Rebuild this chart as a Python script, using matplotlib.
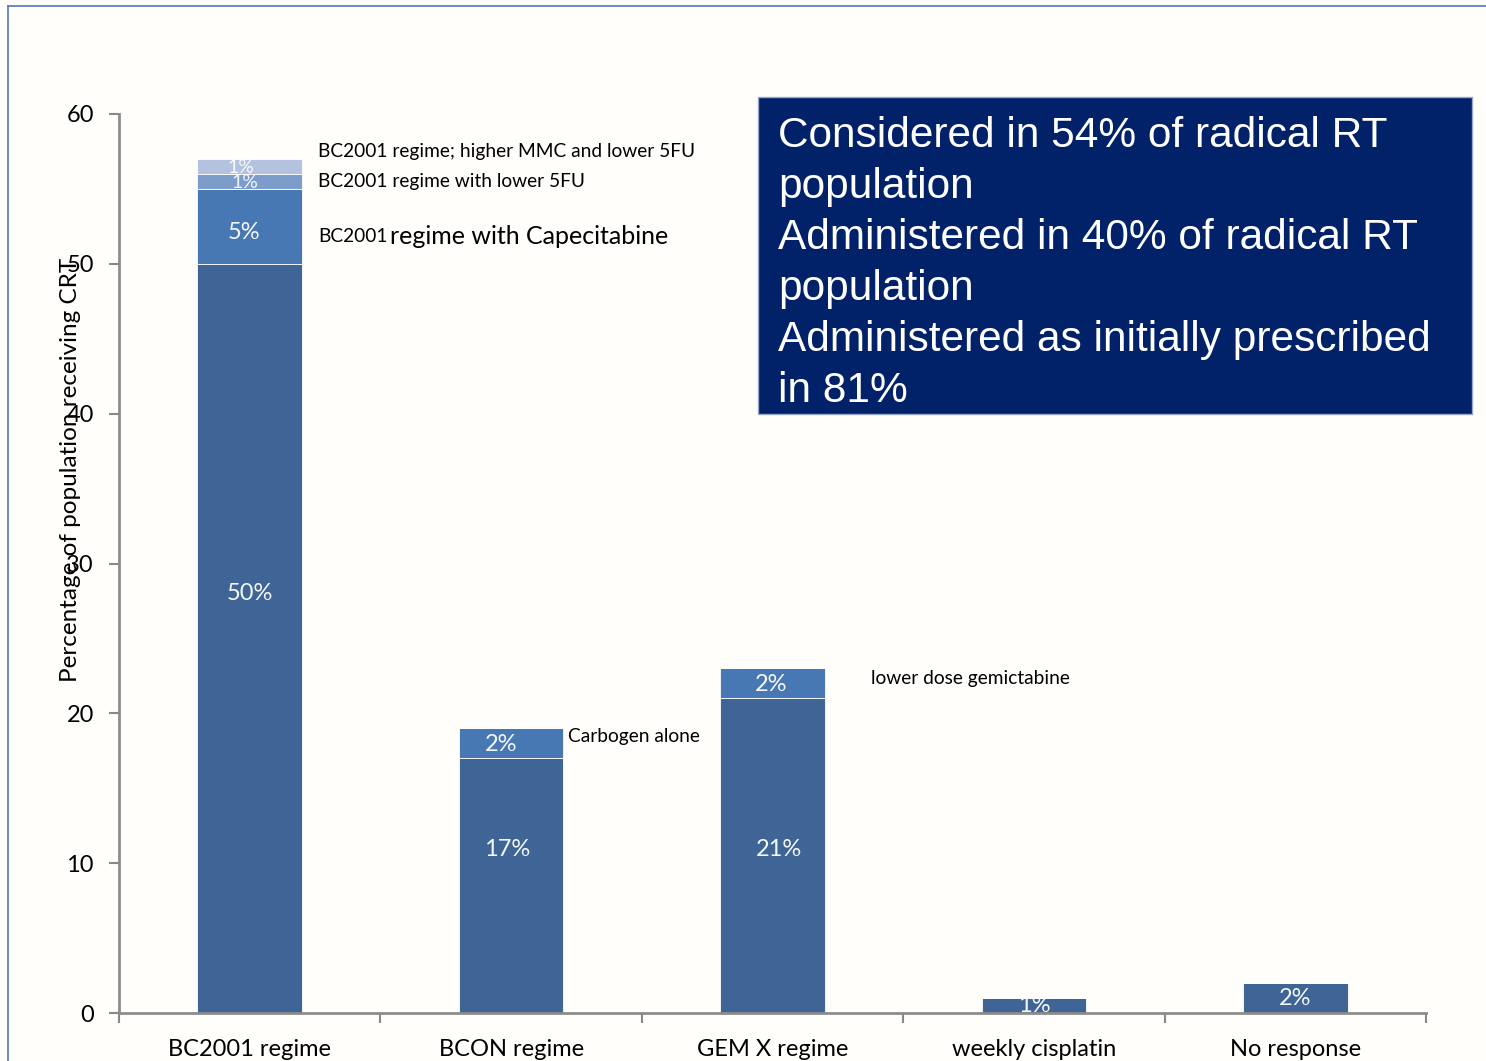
import numpy as np
import matplotlib.pyplot as plt
from matplotlib.patches import Rectangle

# data
categories = ["BC2001 regime", "BCON regime", "GEM X regime", "weekly cisplatin", "No response"]
base = [50, 17, 21, 1, 2]
layer2 = [5, 2, 2, 0, 0]
layer3 = [1, 0, 0, 0, 0]
layer4 = [1, 0, 0, 0, 0]
y_ticks = [0, 10, 20, 30, 40, 50, 60]

box_lines = ["Considered in 54% of radical RT", "population",
             "Administered in 40% of radical RT", "population",
             "Administered as initially prescribed", "in 81%"]

font = ["Lato", "DejaVu Sans"]
bg = "#fffefa"
colors = ["#3e6596", "#4878b3", "#7c9cca", "#b2c2df"]

fig = plt.figure(figsize=(14.86, 10.61), dpi=100, facecolor=bg)
ax = fig.add_axes([119/1486, 48/1061, (1426-119)/1486, (1013-114)/1061])
ax.set_facecolor(bg)

x = np.arange(len(categories))
w = 0.4
layers = [base, layer2, layer3, layer4]
bottom = np.zeros(len(categories))
for vals, c in zip(layers, colors):
    vals = np.array(vals, dtype=float)
    ax.bar(x, vals, w, bottom=bottom, color=c, edgecolor="white", linewidth=0.6)
    bottom += vals

# value labels (centre of each segment, nudged like the original)
nudge_y = {(0, 0): 3.0, (1, 0): 2.4, (2, 0): 0.4, (0, 1): -0.4, (1, 1): -0.1,
           (2, 1): -0.05, (0, 2): -0.1, (0, 3): -0.1}
nudge_x = {(0, 1): -0.02, (0, 2): -0.02, (0, 3): -0.035, (1, 0): -0.015,
           (1, 1): -0.04, (2, 0): 0.025, (2, 1): -0.005}
sizes = {2: 14, 3: 14}
bottom = np.zeros(len(categories))
for li, vals in enumerate(layers):
    for i, v in enumerate(vals):
        if v > 0:
            yy = bottom[i] + v / 2 + nudge_y.get((i, li), 0)
            ax.text(x[i] + nudge_x.get((i, li), 0), yy, f"{v}%", ha="center", va="center",
                    color="white", fontsize=sizes.get(li, 17), family=font,
                    alpha=0.95 if li < 2 else 0.9, zorder=2)
    bottom += np.array(vals, dtype=float)

ax.set_xlim(-0.5, 4.5)
ax.set_ylim(0, 60)
ax.set_yticks(y_ticks)
ax.set_yticklabels([str(t) for t in y_ticks], fontsize=17, family=font)
ax.set_xticks(x)
ax.set_xticklabels(categories, fontsize=17, family=font)
ax.set_xticks(np.arange(-0.5, 5, 1), minor=True)
ax.tick_params(axis="x", which="major", length=0, pad=19)
ax.tick_params(axis="x", which="minor", length=7, width=1.5, color="#888888", direction="out")
ax.tick_params(axis="y", length=7, width=1.5, color="#888888", pad=11)
for s in ["top", "right"]:
    ax.spines[s].set_visible(False)
for s in ["left", "bottom"]:
    ax.spines[s].set_color("#8c8c8c")
    ax.spines[s].set_linewidth(2)
    ax.spines[s].set_zorder(3)

ax.set_ylabel("Percentage of population receiving CRT", fontsize=17.5, family=font)
ax.yaxis.set_label_coords(-0.029, 0.604)

# annotations
ax.text(0.261, 57.5, "BC2001 regime; higher MMC and lower 5FU", fontsize=13.8, family=font, va="center")
ax.text(0.261, 55.5, "BC2001 regime with lower 5FU", fontsize=13.8, family=font, va="center")
ax.text(0.261, 51.8, "BC2001", fontsize=13.8, family=font, va="center")
ax.text(0.537, 51.8, "regime with Capecitabine", fontsize=18, family=font, va="center")
ax.text(1.218, 18.45, "Carbogen alone", fontsize=13.8, family=font, va="center")
ax.text(2.377, 22.35, "lower dose gemictabine", fontsize=13.8, family=font, va="center")

# dark info box
fig.patches.append(Rectangle((758/1486, 1 - 414/1061), (1472-758)/1486, (414-97)/1061,
                             transform=fig.transFigure, facecolor="#012169",
                             edgecolor="#9aa8c8", linewidth=1))
for k, line in enumerate(box_lines):
    fig.text(778/1486, 1 - (136 + k * 51) / 1061, line, color="white", fontsize=30.5,
             family=["Liberation Sans", "DejaVu Sans"], va="center", ha="left")

# slide frame lines
fig.add_artist(plt.Line2D([8/1486, 1], [1 - 6/1061, 1 - 6/1061], transform=fig.transFigure,
                          color="#5673bf", linewidth=1.2))
fig.add_artist(plt.Line2D([8/1486, 8/1486], [0, 1 - 6/1061], transform=fig.transFigure,
                          color="#5673bf", linewidth=1.2))

fig.savefig("out.png", dpi=100, facecolor=bg)
